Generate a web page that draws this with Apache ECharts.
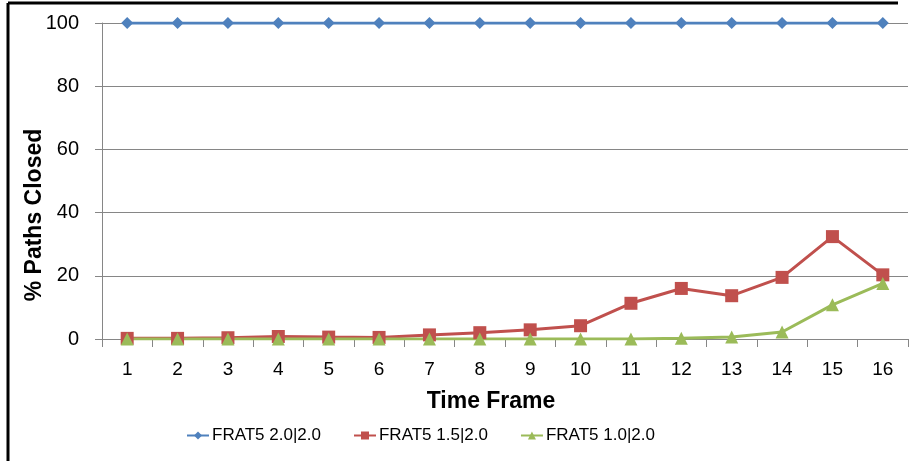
<!DOCTYPE html>
<html><head><meta charset="utf-8">
<script src="https://cdn.jsdelivr.net/npm/echarts@6/dist/echarts.min.js"></script>
<style>html,body{margin:0;padding:0;background:#fff}#c{width:917px;height:461px}</style>
</head><body><div id="c"></div>
<script>
var categories = ['1','2','3','4','5','6','7','8','9','10','11','12','13','14','15','16'];
var seriesNames = ['FRAT5 2.0|2.0', 'FRAT5 1.5|2.0', 'FRAT5 1.0|2.0'];
var frat20 = [100,100,100,100,100,100,100,100,100,100,100,100,100,100,100,100];
var frat15 = [0.2,0.2,0.4,0.8,0.6,0.5,1.3,2.0,2.9,4.2,11.3,16.0,13.7,19.5,32.4,20.3];
var frat10 = [0,0,0,0,0,0,0,0,0,0,0,0.2,0.6,2.2,10.8,17.6];
var yTicks = [0,20,40,60,80,100];

var font = '"Liberation Sans", Arial, sans-serif';
var chart = echarts.init(document.getElementById('c'));
function ser(name, data, color, symbol, size) {
  return {
    name: name, type: 'line', data: data, symbol: symbol, symbolSize: size,
    lineStyle: {color: color, width: 3}, itemStyle: {color: color},
    emphasis: {disabled: true}, animation: false
  };
}
chart.setOption({
  animation: false,
  grid: {left: 102, right: 9, top: 23, bottom: 122},
  xAxis: {
    type: 'category', data: categories, boundaryGap: true,
    axisLine: {lineStyle: {color: '#868686', width: 1}},
    axisTick: {show: true, length: 8, lineStyle: {color: '#868686'}},
    axisLabel: {color: '#000', fontSize: 19, fontFamily: font, margin: 21}
  },
  yAxis: {
    type: 'value', min: 0, max: 100, interval: 20,
    axisLine: {show: true, lineStyle: {color: '#868686', width: 1}},
    axisTick: {show: true, length: 7, inside: false, lineStyle: {color: '#868686'}},
    splitLine: {lineStyle: {color: '#868686', width: 1}},
    axisLabel: {color: '#000', fontSize: 20, fontFamily: font, margin: 23,
      formatter: function (v) { return yTicks.indexOf(v) >= 0 ? String(v) : ''; }}
  },
  legend: {
    bottom: 12, left: 181, itemGap: 32, itemWidth: 22, itemHeight: 10,
    textStyle: {color: '#000', fontSize: 17, fontFamily: font, padding: [0, 0, 0, -2]},
    data: seriesNames
  },
  graphic: [
    {type: 'text', x: 491, y: 402, style: {text: 'Time Frame', font: 'bold 23px ' + font, fill: '#000', align: 'center', verticalAlign: 'middle'}},
    {type: 'text', x: 35, y: 215, rotation: Math.PI / 2, style: {text: '% Paths Closed', font: 'bold 23px ' + font, fill: '#000', align: 'center', verticalAlign: 'middle'}},
    {type: 'line', shape: {x1: 8, y1: 3, x2: 898, y2: 3}, style: {stroke: '#000', lineWidth: 3}},
    {type: 'line', shape: {x1: 8, y1: 3, x2: 8, y2: 461}, style: {stroke: '#000', lineWidth: 3}}
  ],
  series: [
    ser(seriesNames[0], frat20, '#4F81BD', 'diamond', 12),
    ser(seriesNames[1], frat15, '#C0504D', 'rect', 13),
    ser(seriesNames[2], frat10, '#9BBB59', 'triangle', 13)
  ]
});
</script></body></html>
